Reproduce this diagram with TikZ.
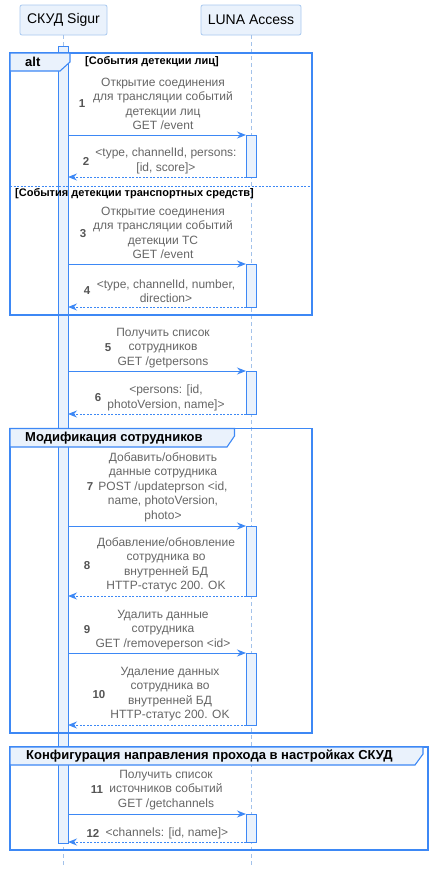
\documentclass[tikz,border=0pt]{standalone}
\usepackage{fontspec}
\setmainfont{Liberation Sans}
\usetikzlibrary{arrows.meta}
\definecolor{bline}{HTML}{3D88F5}
\definecolor{lfill}{HTML}{EAF2FC}
\definecolor{astroke}{HTML}{A9C9F0}
\definecolor{lline}{HTML}{A3C2EA}
\definecolor{mtext}{HTML}{666666}
\definecolor{ntext}{HTML}{555555}
\tikzset{
  actor/.style={draw=astroke, fill=lfill, rounded corners=2pt, minimum width=#1, minimum height=30pt, inner sep=0pt, font=\fontsize{14}{16}\selectfont, line width=0.8pt},
  lifeline/.style={draw=lline, dash pattern=on 4pt off 3pt, line width=0.8pt},
  actbar/.style={draw=bline, fill=lfill, line width=1pt},
  frame/.style={draw=bline, line width=1.3pt},
  tab/.style={draw=bline, fill=lfill, line width=1.1pt},
  msg/.style={font=\fontsize{12}{14.5}\selectfont, text=mtext, align=center, inner sep=0pt},
  num/.style={font=\bfseries\fontsize{11.5}{14}\selectfont, text=ntext, inner sep=0pt},
  guard/.style={font=\bfseries\fontsize{11}{13}\selectfont, inner sep=0pt, anchor=west},
  ftitle/.style={font=\bfseries\fontsize{13}{15}\selectfont, inner sep=0pt, anchor=west},
  call/.style={draw=bline, line width=1pt, -{Stealth[length=9pt,width=7pt,inset=3pt]}},
  ret/.style={draw=bline, line width=1pt, dash pattern=on 2pt off 1.5pt, -{Stealth[length=9pt,width=7pt,inset=3pt]}},
}
\begin{document}
\begin{tikzpicture}[x=1pt,y=-1pt]
\useasboundingbox (0,0) rectangle (433,873);
\fill[white] (0,0) rectangle (433,873);
% actors
\node[actor=87pt] (a1) at (63.5,20) {СКУД Sigur};
\node[actor=100pt] (a2) at (251,20) {LUNA Access};
\coordinate (l1e) at (63.5,868);
\coordinate (l2e) at (251,868);
\draw[lifeline] (a1.south) -- (l1e);
\draw[lifeline] (a2.south) -- (l2e);
% main activation bar
\node[actbar, minimum width=9.5pt, minimum height=797pt, inner sep=0pt, anchor=north] (act1) at (63.3,46) {};
% activation bars on LUNA
\foreach \n/\ya/\yb in {b1/135/177, b2/264/307, b3/371/414, b4/526/596, b5/653/725, b6/814/842}{
  \draw[actbar] (246,\ya) rectangle (256.5,\yb) coordinate (\n);
}
% frames
\draw[frame] (10,53) rectangle (312,315);
\draw[tab] (10,53) -- (70,53) -- (70,62) -- (60,71) -- (10,71) -- cycle;
\node[ftitle] (alt) at (25,62) {alt};
\node[guard] (g1) at (85,62) {[События детекции лиц]};
\draw[draw=bline, line width=0.8pt, dash pattern=on 2pt off 1.5pt] (10,186) -- (312,186);
\node[guard] (g2) at (15,194) {[События детекции транспортных средств]};

\draw[frame] (10,428.5) rectangle (312,733);
\draw[tab] (10,428.5) -- (234.5,428.5) -- (234.5,436) -- (227,447) -- (10,447) -- cycle;
\node[ftitle] (f2) at (25,438) {Модификация сотрудников};

\draw[frame] (10,747) rectangle (428,850);
\draw[tab] (10,747) -- (423,747) -- (423,754) -- (415,765) -- (10,765) -- cycle;
\node[ftitle] (f3) at (26,756) {Конфигурация направления прохода в настройках СКУД};

% message endpoints
\foreach \i/\y in {1/135,2/177,3/264,4/307,5/371,6/414,7/526,8/596,9/653,10/725,11/814,12/842}{
  \coordinate (s\i) at (68,\y);
  \coordinate (e\i) at (246,\y);
}
\draw[call] (s1) -- (e1);
\draw[ret] (e2) -- (s2);
\draw[call] (s3) -- (e3);
\draw[ret] (e4) -- (s4);
\draw[call] (s5) -- (e5);
\draw[ret] (e6) -- (s6);
\draw[call] (s7) -- (e7);
\draw[ret] (e8) -- (s8);
\draw[call] (s9) -- (e9);
\draw[ret] (e10) -- (s10);
\draw[call] (s11) -- (e11);
\draw[ret] (e12) -- (s12);

% labels
\node[msg] (t1) at (163,104) {Открытие соединения\\для трансляции событий\\детекции лиц\\GET /event};
\node[num] (n1) at (82,104) {1};
\node[msg] (t2) at (166,161) {<type, channelId, persons:\\{}[id, score]>};
\node[num] (n2) at (86,161) {2};
\node[msg] (t3) at (163,233) {Открытие соединения\\для трансляции событий\\детекции ТС\\GET /event};
\node[num] (n3) at (83,234) {3};
\node[msg] (t4) at (166,291) {<type, channelId, number,\\direction>};
\node[num] (n4) at (87,291) {4};
\node[msg] (t5) at (163,348) {Получить список\\сотрудников\\GET /getpersons};
\node[num] (n5) at (108,348) {5};
\node[msg] (t6) at (166,398) {<persons: [id,\\photoVersion, name]>};
\node[num] (n6) at (98,398) {6};
\node[msg] (t7) at (163,487) {Добавить/обновить\\данные сотрудника\\POST /updateprson <id,\\name, photoVersion,\\photo>};
\node[num] (n7) at (90,487) {7};
\node[msg] (t8) at (166,565) {Добавление/обновление\\сотрудника во\\внутренней БД\\HTTP-статус 200. OK};
\node[num] (n8) at (87,566) {8};
\node[msg] (t9) at (163,630) {Удалить данные\\сотрудника\\GET /removeperson <id>};
\node[num] (n9) at (87,630) {9};
\node[msg] (t10) at (170,694) {Удаление данных\\сотрудника во\\внутренней БД\\HTTP-статус 200. OK};
\node[num] (n10) at (99,695) {10};
\node[msg] (t11) at (166,790) {Получить список\\источников событий\\GET /getchannels};
\node[num] (n11) at (97,790) {11};
\node[msg] (t12) at (167,833) {<channels: [id, name]>};
\node[num] (n12) at (93,833) {12};
\end{tikzpicture}
\end{document}
